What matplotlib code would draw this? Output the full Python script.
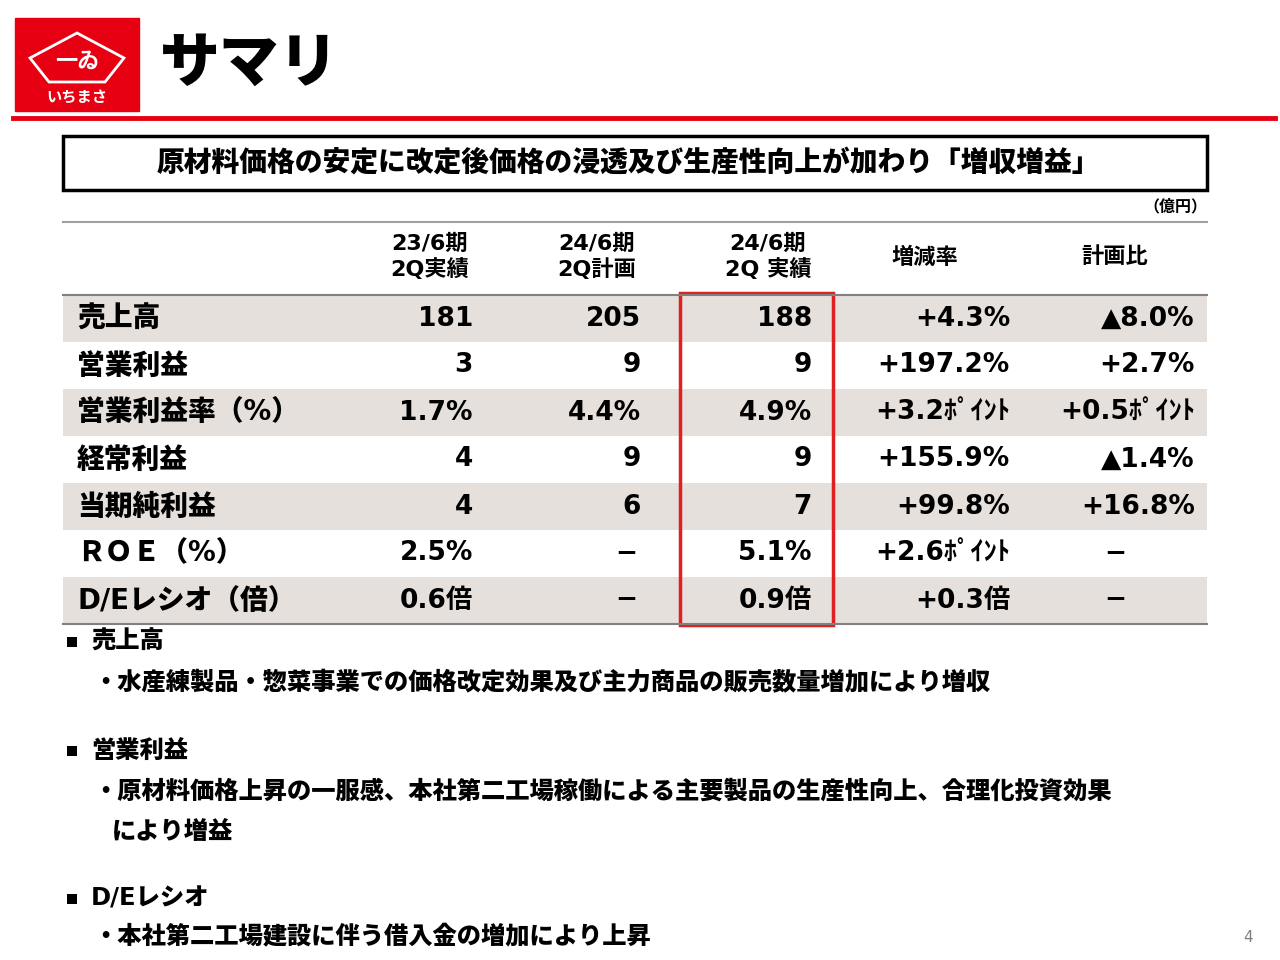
import matplotlib
matplotlib.use("Agg")
import matplotlib.pyplot as plt
from matplotlib.patches import Rectangle, Polygon

plt.rcParams['font.family'] = ['DejaVu Sans', 'Noto Sans CJK JP']

headers = ["23/6期\n2Q実績", "24/6期\n2Q計画", "24/6期\n2Q 実績", "増減率", "計画比"]
row_labels = ["売上高", "営業利益", "営業利益率（%）", "経常利益", "当期純利益", "ＲＯＥ（%）", "D/Eレシオ（倍）"]
col_2306 = ["181", "3", "1.7%", "4", "4", "2.5%", "0.6倍"]
col_2406_plan = ["205", "9", "4.4%", "9", "6", "−", "−"]
col_2406_act = ["188", "9", "4.9%", "9", "7", "5.1%", "0.9倍"]
col_change = ["+4.3%", "+197.2%", "+3.2ﾎﾟｲﾝﾄ", "+155.9%", "+99.8%", "+2.6ﾎﾟｲﾝﾄ", "+0.3倍"]
col_vs_plan = ["▲8.0%", "+2.7%", "+0.5ﾎﾟｲﾝﾄ", "▲1.4%", "+16.8%", "−", "−"]

fig = plt.figure(figsize=(12.8, 9.6), dpi=100)
ax = fig.add_axes([0, 0, 1, 1])
ax.set_xlim(0, 1280); ax.set_ylim(960, 0); ax.axis('off')

# logo
ax.add_patch(Rectangle((15, 18), 124, 93, color='#e60012'))
ax.add_patch(Polygon([[30, 58], [77, 33], [124, 58], [105, 82], [49, 82]], closed=True,
                     fill=False, ec='white', lw=2))
ax.text(77, 62, "一ゐ", color='white', fontsize=16, fontweight='bold', ha='center', va='center')
ax.text(77, 97, "いちまさ", color='white', fontsize=11, fontweight='bold', ha='center', va='center')
ax.text(160, 65, "サマリ", fontsize=43, fontweight='black', ha='left', va='center')
ax.plot([13, 1275], [118, 118], color='#e60012', lw=3.5)

# banner
ax.add_patch(Rectangle((63, 136), 1144, 54, fill=False, ec='black', lw=2.5))
ax.text(628, 163, "原材料価格の安定に改定後価格の浸透及び生産性向上が加わり「増収増益」",
        fontsize=20, fontweight='black', ha='center', va='center')
ax.text(1207, 207, "（億円）", fontsize=11.5, fontweight='bold', ha='right', va='center')

# table
top, hdr_bot, rh = 222, 295, 47
ax.plot([63, 1207], [top, top], color='#a0a0a0', lw=1.5)
hx = [430, 597, 768, 925, 1115]
for x, h in zip(hx, headers):
    ax.text(x, 257, h, fontsize=16, fontweight='bold', ha='center', va='center', linespacing=1.25)
cols = [col_2306, col_2406_plan, col_2406_act, col_change, col_vs_plan]
rx = [473, 641, 812, 1010, 1195]
dash_x = [473, 637, 812, 1010, 1115]
dash_ha = ['right', 'right', 'right', 'right', 'center']
for i, lab in enumerate(row_labels):
    y0 = hdr_bot + i * rh
    if i % 2 == 0:
        ax.add_patch(Rectangle((63, y0), 1144, rh, color='#e5e0dc', lw=0))
    yc = y0 + rh / 2
    ax.text(77, yc, lab, fontsize=20, fontweight='black', ha='left', va='center')
    for j, (c, x) in enumerate(zip(cols, rx)):
        if c[i] == "−":
            ax.text(dash_x[j], yc, c[i], fontsize=19, fontweight='bold', ha=dash_ha[j], va='center')
        else:
            ax.text(x, yc, c[i], fontsize=19, fontweight='bold', ha='right', va='center')
ax.plot([63, 1207], [hdr_bot, hdr_bot], color='#808080', lw=1.5)
ax.plot([63, 1207], [hdr_bot + 7 * rh, hdr_bot + 7 * rh], color='#808080', lw=1.5)
ax.add_patch(Rectangle((680, 293), 153, 332, fill=False, ec='#e02020', lw=2.5))

# notes
notes = [
    (642, "売上高", 91, True),
    (683, "・水産練製品・惣菜事業での価格改定効果及び主力商品の販売数量増加により増収", 93, False),
    (751, "営業利益", 91, True),
    (792, "・原材料価格上昇の一服感、本社第二工場稼働による主要製品の生産性向上、合理化投資効果", 93, False),
    (832, "により増益", 112, False),
    (899, "D/Eレシオ", 91, True),
    (937, "・本社第二工場建設に伴う借入金の増加により上昇", 93, False),
]
for y, t, x, sq in notes:
    if sq:
        ax.add_patch(Rectangle((67, y - 5), 10, 10, color='black', lw=0))
    ax.text(x, y, t, fontsize=17.5, fontweight='black', ha='left', va='center')
ax.text(1253, 938, "4", fontsize=11, color='#808080', ha='right', va='center')

fig.savefig("out.png", dpi=100)
